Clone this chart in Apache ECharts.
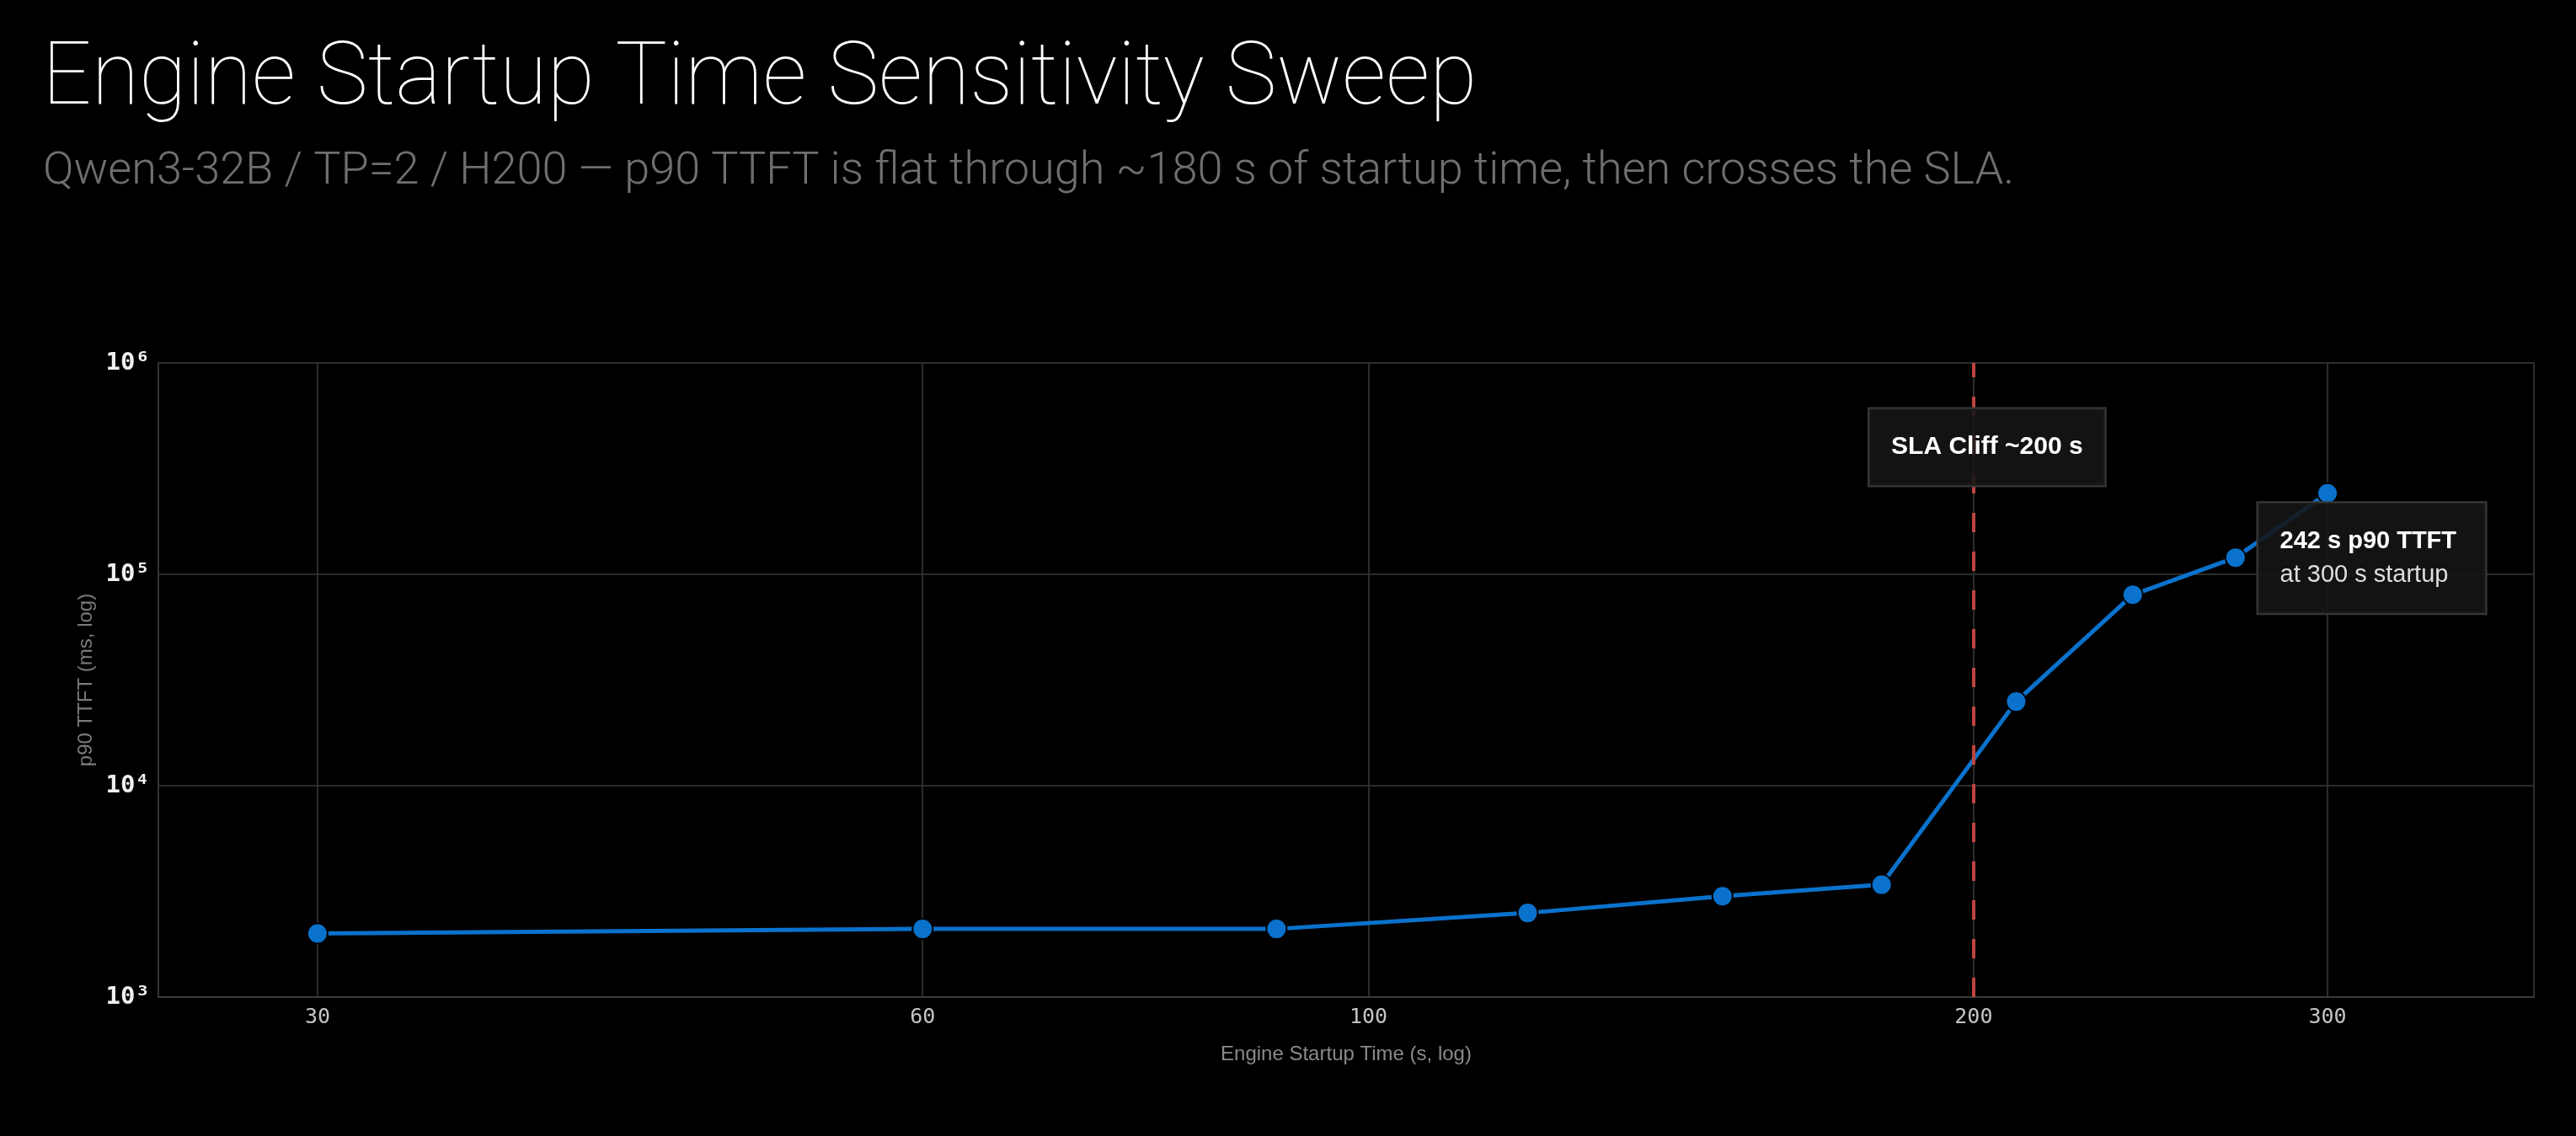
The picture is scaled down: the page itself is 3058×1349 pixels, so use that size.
<!DOCTYPE html>
<html>
<head>
<meta charset="utf-8">
<title>Engine Startup Time Sensitivity Sweep</title>
<script src="https://cdn.jsdelivr.net/npm/echarts@6/dist/echarts.min.js"></script>
<style>
  html, body { margin: 0; padding: 0; background: #000; }
  #chart { width: 3058px; height: 1349px; }
</style>
</head>
<body>
<div id="chart"></div>
<script>
// sweep results
const startupTimes = [30, 60, 90, 120, 150, 180, 210, 240, 270, 300];
const p90Ttft = [2000, 2100, 2100, 2500, 3000, 3400, 25000, 80000, 120000, 242000];
const xTickValues = [30, 60, 100, 200, 300];
const slaCliff = 200;

const titleText = 'Engine Startup Time Sensitivity Sweep';
const subtitleText = 'Qwen3-32B / TP=2 / H200 \u2014 p90 TTFT is flat through ~180 s of startup time, then crosses the SLA.';

const SUP = { '0': '\u2070', '1': '\u00b9', '2': '\u00b2', '3': '\u00b3', '4': '\u2074', '5': '\u2075', '6': '\u2076', '7': '\u2077', '8': '\u2078', '9': '\u2079' };
const MONO = '"DejaVu Sans Mono", "Liberation Mono", monospace';
const SANS = '"Liberation Sans", "Noto Sans", sans-serif';

function drawChart() {
  let chart = echarts.init(document.getElementById('chart'));
  let option;

  option = {
    backgroundColor: '#000',
    animation: false,
    title: [
      {
        text: titleText,
        left: 45,
        top: 41,
        textStyle: { color: '#fff', fontSize: 103, fontWeight: 100, fontFamily: 'Roboto, sans-serif' }
      },
      {
        text: subtitleText,
        left: 46,
        top: 172,
        textStyle: { color: '#6f6f6f', fontSize: 54, fontWeight: 300, fontFamily: 'Roboto, sans-serif' }
      }
    ],
    grid: {
      left: 188,
      right: 50,
      top: 431,
      bottom: 165,
      show: true,
      borderColor: '#2e2e2e',
      borderWidth: 2
    },
    xAxis: {
      type: 'log',
      logBase: 10,
      min: 25,
      max: 380,
      name: 'Engine Startup Time (s, log)',
      nameLocation: 'middle',
      nameGap: 56,
      nameTextStyle: { color: '#8a8a8a', fontSize: 24, fontFamily: SANS },
      axisLine: { show: true, lineStyle: { color: '#3a3a3a', width: 2 } },
      axisTick: { show: false, customValues: xTickValues },
      axisLabel: {
        customValues: xTickValues,
        color: '#c4c4c4',
        fontSize: 25,
        fontFamily: MONO,
        margin: 12,
        formatter: (v) => String(Math.round(v))
      },
      splitLine: { show: true, lineStyle: { color: '#2c2c2c', width: 2 } }
    },
    yAxis: {
      type: 'log',
      logBase: 10,
      min: 1000,
      max: 1000000,
      name: 'p90 TTFT (ms, log)',
      nameLocation: 'middle',
      nameGap: 74,
      nameTextStyle: { color: '#7a7a7a', fontSize: 24, fontFamily: SANS },
      axisLine: { show: true, lineStyle: { color: '#333', width: 2 } },
      axisTick: { show: false },
      axisLabel: {
        color: '#f0f0f0',
        fontSize: 29,
        fontWeight: 'bold',
        fontFamily: MONO,
        margin: 10,
        formatter: (v) => '10' + String(Math.round(Math.log10(v))).split('').map(d => SUP[d]).join('')
      },
      splitLine: { show: true, lineStyle: { color: '#2c2c2c', width: 2 } }
    },
    series: [
      {
        name: 'p90 TTFT',
        type: 'line',
        data: startupTimes.map((x, i) => [x, p90Ttft[i]]),
        symbol: 'circle',
        symbolSize: 24,
        lineStyle: { color: '#0a72cc', width: 5 },
        itemStyle: { color: '#0a72cc', borderColor: '#000', borderWidth: 2 },
        z: 3,
        markLine: {
          silent: true,
          symbol: ['none', 'none'],
          label: { show: false },
          lineStyle: { color: '#bd4441', type: [23, 23], width: 4 },
          data: [{ xAxis: slaCliff }]
        },
        markPoint: {
          silent: true,
          symbol: 'circle',
          symbolSize: 1,
          itemStyle: { color: 'rgba(0,0,0,0)' },
          data: [
            {
              coord: [slaCliff, 400000],
              label: {
                show: true,
                position: 'inside',
                offset: [16, 0],
                formatter: 'SLA Cliff ~200 s',
                color: '#fff',
                fontSize: 30,
                fontWeight: 'bold',
                fontFamily: SANS,
                lineHeight: 31,
                padding: [30, 26],
                backgroundColor: 'rgba(22,22,22,0.88)',
                borderColor: '#3a3a3a',
                borderWidth: 2
              }
            },
            {
              coord: [startupTimes[startupTimes.length - 1], p90Ttft[p90Ttft.length - 1]],
              label: {
                show: true,
                position: [-82, 12],
                formatter: '{a|242 s p90 TTFT}\n{b|at 300 s startup}',
                width: 218,
                padding: [26, 26, 25, 26],
                backgroundColor: 'rgba(22,22,22,0.88)',
                borderColor: '#3a3a3a',
                borderWidth: 2,
                rich: {
                  a: { color: '#fff', fontSize: 29, fontWeight: 'bold', fontFamily: SANS, lineHeight: 40 },
                  b: { color: '#dedede', fontSize: 29, fontFamily: SANS, lineHeight: 40 }
                }
              }
            }
          ]
        }
      }
    ]
  };

  option && chart.setOption(option);
}

drawChart();
</script>
</body>
</html>
